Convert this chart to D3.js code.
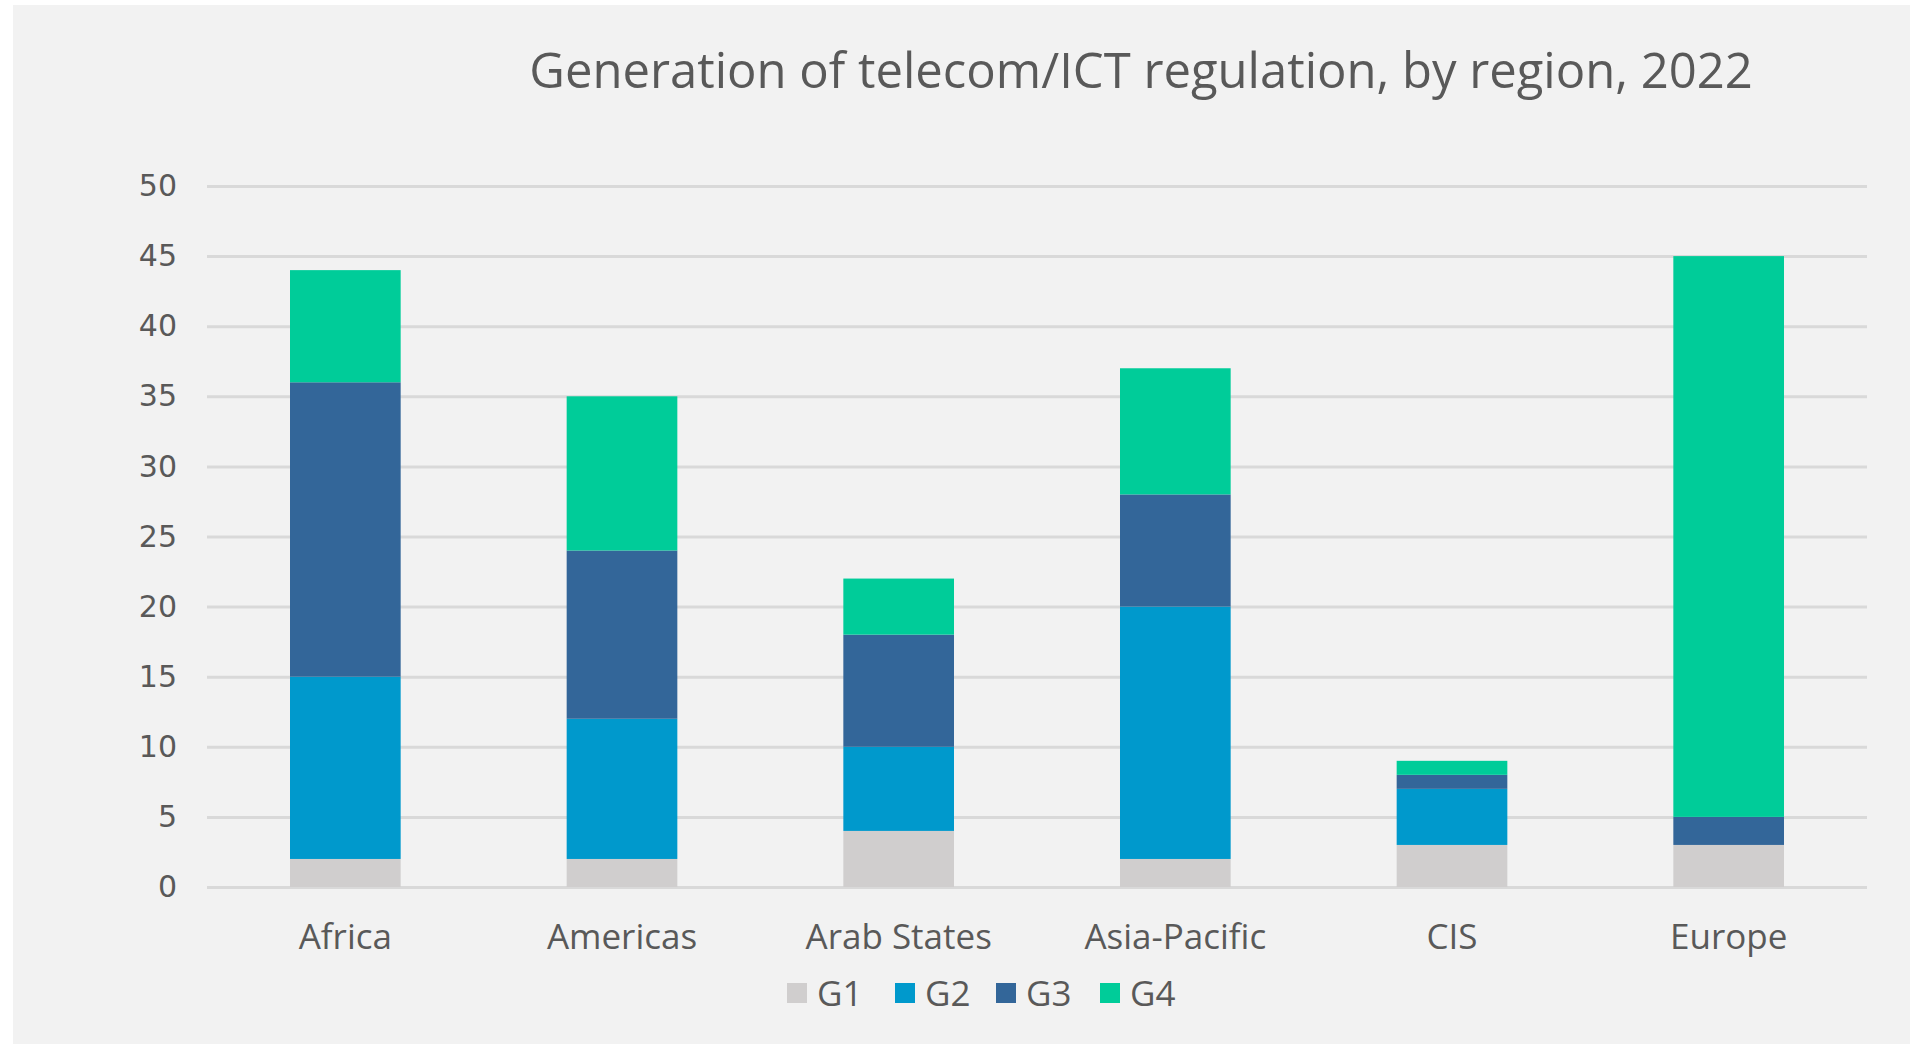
<!DOCTYPE html>
<html>
<head>
<meta charset="utf-8">
<script src="https://cdn.jsdelivr.net/npm/d3@7"></script>
<style>
  html, body { margin: 0; padding: 0; background: #ffffff; }
  svg { display: block; }
</style>
</head>
<body>
<div id="chart"></div>
<script>
// data
var regions = ["Africa", "Americas", "Arab States", "Asia-Pacific", "CIS", "Europe"];
var series = ["G1", "G2", "G3", "G4"];
var g1 = [2, 2, 4, 2, 3, 3];
var g2 = [13, 10, 6, 18, 4, 0];
var g3 = [21, 12, 8, 8, 1, 2];
var g4 = [8, 11, 4, 9, 1, 40];
var yTicks = [0, 5, 10, 15, 20, 25, 30, 35, 40, 45, 50];
var colors = ["#d0cece", "#0099cc", "#336699", "#00cc99"];

var W = 1910, H = 1044;
var margin = {left: 207, right: 43, top: 186, bottom: 157};

var rows = regions.map(function(r, i){
  return {region: r, G1: g1[i], G2: g2[i], G3: g3[i], G4: g4[i]};
});
var stacked = d3.stack().keys(series)(rows);

var svg = d3.select('#chart').append('svg')
  .attr('width', W)
  .attr('height', H);

// grey panel
svg.append('rect')
  .attr('x', 13).attr('y', 5)
  .attr('width', W - 13).attr('height', H - 5)
  .attr('fill', '#f2f2f2');

var x = d3.scaleBand()
  .domain(regions)
  .range([margin.left, W - margin.right])
  .paddingInner(0.6)
  .paddingOuter(0.3);

var y = d3.scaleLinear()
  .domain([0, 50])
  .range([H - margin.bottom, margin.top]);

// title
svg.append('text')
  .attr('x', 1141)
  .attr('y', 88)
  .attr('text-anchor', 'middle')
  .style('font-family', '"Open Sans", sans-serif')
  .style('font-size', '49px')
  .style('fill', '#595959')
  .text('Generation of telecom/ICT regulation, by region, 2022');

// gridlines
var gGrid = svg.append('g').attr('class', 'grid')
  .attr('transform', 'translate(' + margin.left + ',0)')
  .call(d3.axisLeft(y).tickValues(yTicks).tickSize(-(W - margin.left - margin.right)).tickFormat(''));
gGrid.select('.domain').remove();
gGrid.selectAll('line')
  .attr('stroke', '#d9d9d9')
  .attr('stroke-width', 3);

// y labels
var gY = svg.append('g')
  .attr('transform', 'translate(' + (margin.left - 30) + ',0)')
  .call(d3.axisLeft(y).tickValues(yTicks).tickSize(0).tickPadding(0));
gY.select('.domain').remove();
gY.selectAll('text')
  .style('font-family', '"DejaVu Sans", Verdana, sans-serif')
  .style('font-size', '30px')
  .style('fill', '#595959');

// bars
var gBars = svg.append('g').attr('class', 'bars');
gBars.selectAll('g')
  .data(stacked)
  .enter().append('g')
    .attr('fill', function(d, i){ return colors[i]; })
  .selectAll('rect')
  .data(function(d){ return d; })
  .enter().append('rect')
    .attr('x', function(d){ return x(d.data.region); })
    .attr('y', function(d){ return y(d[1]); })
    .attr('width', x.bandwidth())
    .attr('height', function(d){ return y(d[0]) - y(d[1]); });

// x labels
var gX = svg.append('g')
  .attr('transform', 'translate(0,' + (H - margin.bottom) + ')')
  .call(d3.axisBottom(x).tickSize(0));
gX.select('.domain').remove();
gX.selectAll('text')
  .attr('y', 62)
  .attr('dy', null)
  .style('font-family', '"Open Sans", sans-serif')
  .style('font-size', '35px')
  .style('fill', '#595959');

// legend
var legendX = [787, 895, 996, 1100];
var legend = svg.append('g').attr('class', 'legend');
var items = legend.selectAll('g')
  .data(series)
  .enter().append('g')
    .attr('transform', function(d, i){ return 'translate(' + legendX[i] + ',993)'; });
items.append('rect')
  .attr('x', 0).attr('y', -10)
  .attr('width', 20).attr('height', 20)
  .attr('fill', function(d, i){ return colors[i]; });
items.append('text')
  .attr('x', 30)
  .attr('y', 0)
  .attr('dy', '0.36em')
  .style('font-family', '"Open Sans", sans-serif')
  .style('font-size', '35px')
  .style('fill', '#595959')
  .text(function(d){ return d; });
</script>
</body>
</html>
